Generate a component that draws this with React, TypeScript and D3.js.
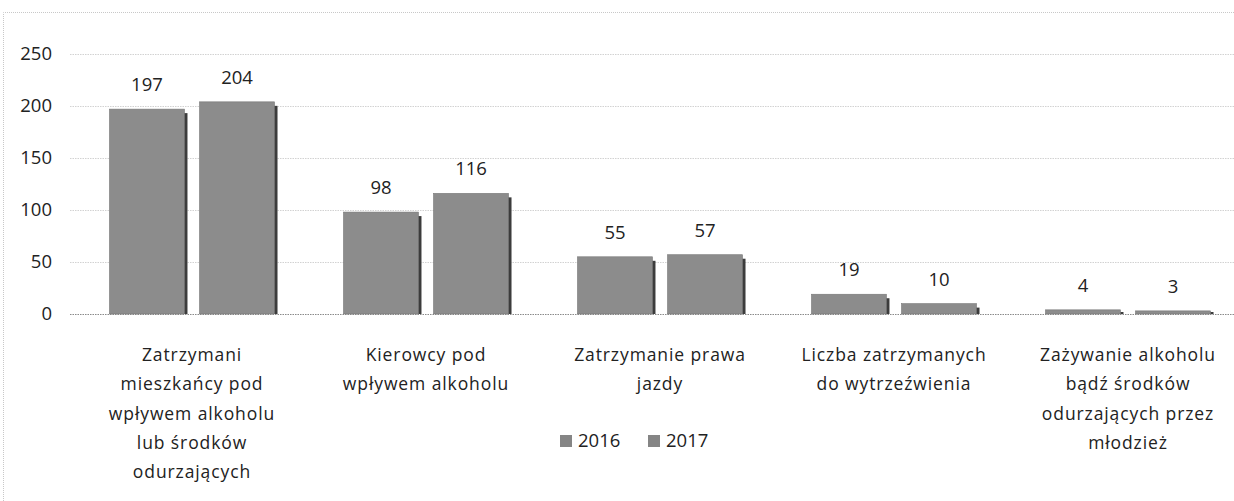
import React, { useRef, useEffect } from 'react'
import * as d3 from 'd3'

const categories = [
  ['Zatrzymani', 'mieszkańcy pod', 'wpływem alkoholu', 'lub środków', 'odurzających'],
  ['Kierowcy pod', 'wpływem alkoholu'],
  ['Zatrzymanie prawa', 'jazdy'],
  ['Liczba zatrzymanych', 'do wytrzeźwienia'],
  ['Zażywanie alkoholu', 'bądź środków', 'odurzających przez', 'młodzież'],
]
const series = ['2016', '2017']
const values2016 = [197, 98, 55, 19, 4]
const values2017 = [204, 116, 57, 10, 3]
const yTicks = [0, 50, 100, 150, 200, 250]

const W = 1234
const H = 501
const font = "'Open Sans', 'Noto Sans', sans-serif"

export default function App() {
  const ref = useRef<SVGSVGElement>(null)

  useEffect(() => {
    const svg = d3.select(ref.current)
    svg.selectAll('*').remove()

    const x = d3.scaleBand<number>()
      .domain(d3.range(categories.length))
      .range([75, 1245])
    const xs = d3.scaleBand<string>()
      .domain(series)
      .range([0, x.bandwidth()])
      .paddingInner(0.167)
      .paddingOuter(0.383)
    const y = d3.scaleLinear().domain([0, 250]).range([314, 54])

    // frame
    svg.append('path')
      .attr('d', `M3.5,${H} V12.5 H${W}`)
      .attr('fill', 'none')
      .attr('stroke', '#c8c8c8')
      .attr('stroke-dasharray', '1,1')

    // grid
    svg.append('g').selectAll('line')
      .data(yTicks)
      .join('line')
      .attr('x1', 70).attr('x2', W)
      .attr('y1', d => y(d) + 0.5).attr('y2', d => y(d) + 0.5)
      .attr('stroke', d => d === 0 ? '#8a8a8a' : '#d2d2d2')
      .attr('stroke-dasharray', '1.5,1')

    // y labels
    svg.append('g').selectAll('text')
      .data(yTicks)
      .join('text')
      .attr('x', 52).attr('y', d => y(d))
      .attr('dy', '0.35em')
      .attr('text-anchor', 'end')
      .attr('font-family', font).attr('font-size', 18.5)
      .attr('fill', '#222')
      .text(d => d)

    const rows = categories.flatMap((c, i) => [
      { i, s: '2016', v: values2016[i] },
      { i, s: '2017', v: values2017[i] },
    ])

    const g = svg.append('g')
    // shadow
    g.selectAll('.shadow')
      .data(rows)
      .join('rect')
      .attr('class', 'shadow')
      .attr('x', d => x(d.i)! + xs(d.s)! + 3)
      .attr('y', d => Math.min(y(d.v) + 4, y(0) - 2))
      .attr('width', xs.bandwidth())
      .attr('height', d => y(0) - Math.min(y(d.v) + 4, y(0) - 2))
      .attr('fill', '#3c3c3c')
    g.selectAll('.bar')
      .data(rows)
      .join('rect')
      .attr('class', 'bar')
      .attr('x', d => x(d.i)! + xs(d.s)!)
      .attr('y', d => y(d.v))
      .attr('width', xs.bandwidth())
      .attr('height', d => y(0) - y(d.v))
      .attr('fill', '#8c8c8c')
      .attr('stroke', '#777')
      .attr('stroke-width', 0.6)

    g.selectAll('.val')
      .data(rows)
      .join('text')
      .attr('class', 'val')
      .attr('x', d => x(d.i)! + xs(d.s)! + xs.bandwidth() / 2)
      .attr('y', d => y(d.v) - 18)
      .attr('text-anchor', 'middle')
      .attr('font-family', font).attr('font-size', 18.5)
      .attr('fill', '#222')
      .text(d => d.v)

    // category labels
    const cl = svg.append('g').selectAll('text')
      .data(categories)
      .join('text')
      .attr('text-anchor', 'middle')
      .attr('font-family', font).attr('font-size', 17.5)
      .attr('letter-spacing', 0.9)
      .attr('fill', '#222')
    cl.selectAll('tspan')
      .data((d, i) => d.map(t => ({ t, i })))
      .join('tspan')
      .attr('x', d => x(d.i)! + x.bandwidth() / 2)
      .attr('y', (d, j) => 361 + j * 29.3)
      .text(d => d.t)

    // legend
    const lg = svg.append('g').selectAll('g')
      .data(series)
      .join('g')
      .attr('transform', (d, i) => `translate(${560 + i * 88},441)`)
    lg.append('rect')
      .attr('x', 0).attr('y', -6).attr('width', 12).attr('height', 12)
      .attr('fill', '#858585')
    lg.append('text')
      .attr('x', 18).attr('y', 0).attr('dy', '0.35em')
      .attr('font-family', font).attr('font-size', 18.5)
      .attr('fill', '#222')
      .text(d => d)
  }, [])

  return (
    <svg ref={ref} width={W} height={H}
      style={{ position: 'absolute', left: 0, top: 0, background: '#fff' }} />
  )
}
